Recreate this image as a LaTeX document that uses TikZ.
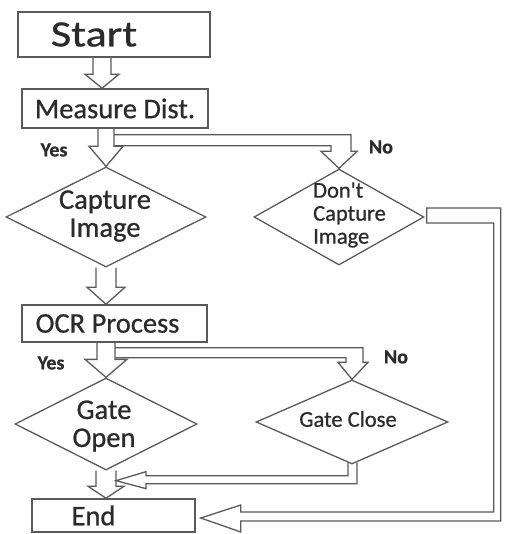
\documentclass[tikz,border=0pt]{standalone}
\usepackage{fontspec}
\setmainfont{Carlito}[FakeBold=0.7]
\usetikzlibrary{shapes.geometric,calc}
\definecolor{ln}{HTML}{5A5A5A}
\definecolor{tx}{HTML}{2B2B2B}
\newcommand\vblk[5]{\draw[blk] ($(#1 -| #2)+(-#3,0)$) -- ($(#2)+(-#3,-#5)$) -- ($(#2)+(-#4,-#5)$) -- (#2) -- ($(#2)+(#4,-#5)$) -- ($(#2)+(#3,-#5)$) -- ($(#1 -| #2)+(#3,0)$);}
\begin{document}
\begin{tikzpicture}[x=1pt,y=-1pt,
  box/.style={draw=ln, line width=1.5pt, rectangle, inner sep=0pt, text=tx},
  dia/.style={draw=ln, line width=1.3pt, diamond, inner sep=0pt},
  blk/.style={draw=ln, line width=1.3pt, line join=miter},
  txt/.style={text=tx, inner sep=0pt},
  big/.style={font=\fontsize{28.5}{28}\selectfont},
  sml/.style={font=\fontsize{22.5}{23}\selectfont},
  lbl/.style={text=tx, inner sep=0pt, font=\bfseries\fontsize{20}{20}\selectfont}]
\useasboundingbox[fill=white] (0,0) rectangle (508,534);

% boxes
\node[box, minimum width=192pt, minimum height=45pt, font=\fontsize{37}{37}\selectfont] (start) at (114,34.5) {\scalebox{1.2}[1]{Start}\hspace*{40pt}};
\node[box, big, minimum width=186pt, minimum height=39pt] (meas) at (115,108.5) {Measure Dist.};
\node[box, big, minimum width=185pt, minimum height=37pt] (ocr) at (114.5,323.5) {OCR Process\hspace*{14pt}};
\node[box, big, minimum width=163pt, minimum height=33pt] (end) at (113.5,515.5) {\raisebox{-3pt}{End}\hspace*{40pt}};

% diamonds
\node[dia, minimum width=200pt, minimum height=100pt] (cap) at (106,217) {};
\node[txt, big, align=center] (capT) at (105,216) {Capture\\Image};
\node[dia, minimum width=170pt, minimum height=96pt] (dont) at (339,217) {};
\node[txt, sml, align=left, anchor=west] (dontT) at (313,215) {Don\textquotesingle t\\Capture\\Image};
\node[dia, minimum width=182pt, minimum height=92pt] (gopen) at (106,424) {};
\node[txt, big, align=center] (gopenT) at (104,426) {Gate\\Open};
\node[dia, minimum width=192pt, minimum height=84pt] (gclose) at (352,422) {};
\node[txt, sml] (gcloseT) at (348,419) {Gate Close};

% labels
\node[lbl] (yes1) at (54,150) {Yes};
\node[lbl] (no1) at (381,147) {No};
\node[lbl] (yes2) at (51,363) {Yes};
\node[lbl] (no2) at (396,357) {No};

% tip coordinates
\coordinate (t1) at ($(meas.north)+(-13,0)$);
\coordinate (t3) at ($(ocr.north)+(-8.5,0)$);
\coordinate (t5) at ($(end.north)+(-7.5,0)$);
\coordinate (t6) at ($(gopen.south)+(10,10)$);
\coordinate (t7) at ($(end.east)+(5,2.5)$);

% straight block arrows
\vblk{start.south}{t1}{9}{17}{14}
\vblk{meas.south}{cap.north}{8}{17}{20}
\vblk{cap.south}{t3}{10}{19}{17}
\vblk{ocr.south}{gopen.north}{9}{21}{18}
\vblk{gopen.south}{t5}{10}{18}{12}

% branch: Measure -> Don't capture
\draw[blk] ($(meas.south -| cap.north)+(8,6)$) -- ($(dont.north |- meas.south)+(12,6)$)
  -- ($(dont.north)+(12,-17)$) -- ($(dont.north)+(18,-17)$) -- (dont.north)
  -- ($(dont.north)+(-18,-17)$) -- ($(dont.north)+(-8,-17)$)
  -- ($(dont.north |- meas.south)+(-8,17)$) -- ($(meas.south -| cap.north)+(8,17)$);

% branch: OCR -> Gate close
\draw[blk] ($(ocr.south -| gopen.north)+(9,5)$) -- ($(gclose.north |- ocr.south)+(11,5)$)
  -- ($(gclose.north)+(11,-17)$) -- ($(gclose.north)+(16,-17)$) -- (gclose.north)
  -- ($(gclose.north)+(-14,-17)$) -- ($(gclose.north)+(-6,-17)$)
  -- ($(gclose.north |- ocr.south)+(-6,15)$) -- ($(ocr.south -| gopen.north)+(9,15)$);

% Gate close -> end arrow shaft
\draw[blk] ($(gclose.south)+(-4,-2)$) -- ($(gclose.south)+(-4,11)$) -- ($(t6)+(30,-5)$)
  -- ($(t6)+(30,-9)$) -- (t6) -- ($(t6)+(30,8)$) -- ($(t6)+(30,3)$)
  -- ($(gclose.south)+(5,19)$) -- ($(gclose.south)+(5,-2)$);

% Don't capture -> End
\draw[blk] ($(dont.east)+(2,-9)$) -- ($(dont.east)+(76,-9)$) -- ($(t7 -| dont.east)+(76,3)$)
  -- ($(t7)+(40,3)$) -- ($(t7)+(40,14)$) -- (t7) -- ($(t7)+(40,-13)$) -- ($(t7)+(40,-6)$)
  -- ($(t7 -| dont.east)+(69,-6)$) -- ($(dont.east)+(69,6)$) -- ($(dont.east)+(2,6)$) -- cycle;
\end{tikzpicture}
\end{document}
